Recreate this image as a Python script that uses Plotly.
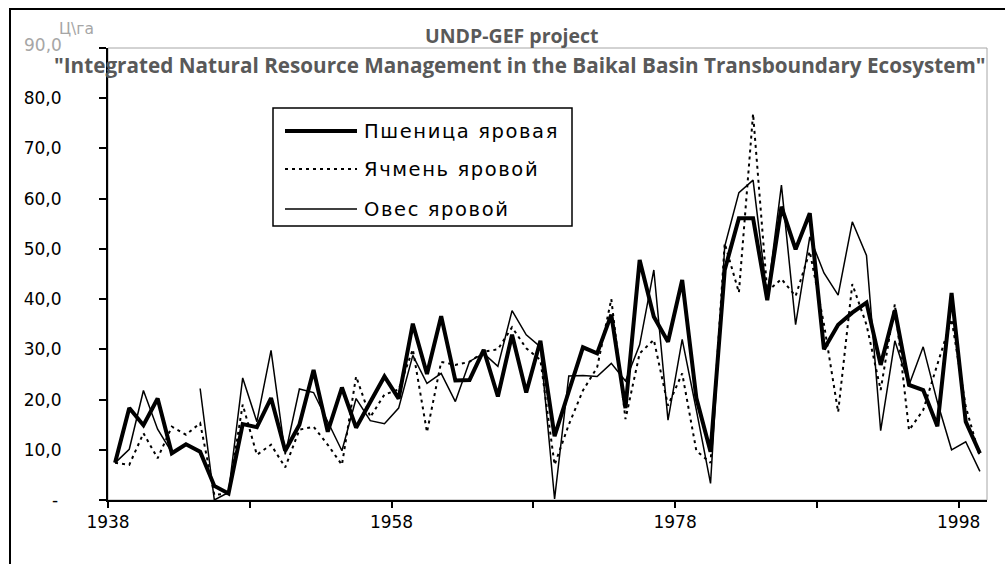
import plotly.graph_objects as go

# Yields of spring grain crops, centner per hectare, 1938-1999
years = list(range(1938, 2000))

wheat = [
    7.4, 18.3, 14.9, 20.2, 9.3, 11.1, 9.6, 2.8, 1.3, 15.1,
    14.5, 20.3, 9.8, 15.0, 25.9, 13.6, 22.4, 14.4, 19.5, 24.6,
    20.2, 35.1, 25.1, 36.6, 23.8, 23.9, 29.9, 20.6, 32.9, 21.4,
    31.7, 12.7, 21.6, 30.4, 29.2, 36.9, 18.3, 47.8, 36.5, 31.5,
    43.8, 20.3, 9.6, 45.8, 56.1, 56.1, 39.8, 58.4, 49.9, 57.1,
    30.0, 34.9, 37.3, 39.3, 26.9, 37.8, 22.9, 21.9, 14.7, 41.2,
    15.6, 9.3,
]

barley = [
    7.4, 7.0, 13.3, 8.3, 14.6, 13.0, 15.3, 1.0, 1.3, 19.0,
    9.0, 11.0, 6.5, 14.0, 14.6, 11.0, 7.0, 24.6, 16.5, 21.0,
    22.0, 30.0, 13.5, 27.5, 26.9, 27.5, 29.5, 30.0, 34.4, 30.2,
    27.9, 7.0, 15.0, 21.8, 26.4, 40.0, 16.1, 29.2, 31.9, 18.8,
    25.2, 9.8, 7.4, 51.1, 41.3, 76.9, 41.5, 44.0, 40.6, 49.5,
    35.0, 17.5, 43.0, 34.9, 21.9, 39.0, 13.9, 17.9, 27.0, 36.0,
    18.6, 8.6,
]

oats = [
    7.4, 10.1, 21.8, 14.1, 9.5, None, 22.2, 0.0, 1.5, 24.3,
    15.6, 29.8, 9.1, 22.1, 21.4, 15.5, 9.8, 20.2, 15.8, 15.2,
    18.3, 28.8, 23.2, 25.2, 19.6, 27.6, 29.2, 26.6, 37.7, 32.9,
    30.5, 0.2, 24.7, 24.8, 24.6, 27.2, 23.7, 30.9, 45.8, 15.9,
    32.0, 17.9, 3.3, 50.5, 61.2, 63.7, 40.5, 62.7, 34.9, 52.4,
    45.2, 40.8, 55.4, 48.7, 13.8, 31.7, 22.9, 30.5, 19.5, 10.0,
    11.6, 5.7,
]

series_names = ["Пшеница яровая", "Ячмень яровой", "Овес яровой"]
series_values = [wheat, barley, oats]
series_styles = [
    dict(color="black", width=4),
    dict(color="black", width=2, dash="3px,4px"),
    dict(color="black", width=1.5),
]

y_ticks = [0, 10, 20, 30, 40, 50, 60, 70, 80, 90]
y_ticktext = ["-\u2009", "10,0", "20,0", "30,0", "40,0", "50,0", "60,0", "70,0", "80,0", ""]
x_ticks = [1937.5, 1947.5, 1957.5, 1967.5, 1977.5, 1987.5, 1997.5]
x_ticktext = ["1938", "", "1958", "", "1978", "", "1998"]

title_lines = [
    "UNDP-GEF project",
    "\"Integrated Natural Resource Management in the Baikal Basin Transboundary Ecosystem\"",
]

W, H = 1005, 564
ML, MR, MT, MB = 108, 18, 48, 64
PW, PH = W - ML - MR, H - MT - MB


def px(x):
    return (x - ML) / PW


def py(y):
    return (H - MB - y) / PH


SANS = "DejaVu Sans, Liberation Sans, Arial, sans-serif"
AXIS_FONT = dict(family=SANS, size=17, color="black")
TITLE_FAMILY = "Open Sans, sans-serif"

fig = go.Figure()
for name, vals, style in zip(series_names, series_values, series_styles):
    fig.add_trace(go.Scatter(
        x=years, y=vals, name=name, mode="lines", line=style,
        connectgaps=False, showlegend=False,
    ))

shapes = []
# light plot-area frame
shapes.append(dict(type="rect", xref="paper", yref="paper", x0=0, x1=1, y0=0, y1=1,
                   line=dict(color="#a6a6a6", width=1), layer="below"))
# outer chart frame
shapes.append(dict(type="rect", xref="paper", yref="paper",
                   x0=px(10), x1=px(1015), y0=py(575), y1=py(9),
                   line=dict(color="black", width=2)))

# legend box with long line samples
lg_left, lg_right, lg_top, lg_bot = 273, 572, 108, 226
shapes.append(dict(type="rect", xref="paper", yref="paper",
                   x0=px(lg_left), x1=px(lg_right), y0=py(lg_bot), y1=py(lg_top),
                   line=dict(color="black", width=1.5), fillcolor="white"))
legend_rows = [131, 169, 209]
annotations = []
for name, style, yy in zip(series_names, series_styles, legend_rows):
    shapes.append(dict(type="line", xref="paper", yref="paper",
                       x0=px(285), x1=px(357), y0=py(yy), y1=py(yy), line=style))
    annotations.append(dict(xref="paper", yref="paper", x=px(362), y=py(yy),
                            text=f'<span style="letter-spacing:1.6px">{name}</span>',
                            showarrow=False, xanchor="left", yanchor="middle",
                            font=dict(family=SANS, size=19.5, color="black")))

annotations += [
    dict(xref="paper", yref="paper", x=px(512), y=py(36), text=f"<b>{title_lines[0]}</b>",
         showarrow=False, xanchor="center", yanchor="middle",
         font=dict(family=TITLE_FAMILY, size=19.5, color="#595959")),
    dict(xref="paper", yref="paper", x=px(520), y=py(65), text=f"<b>{title_lines[1]}</b>",
         showarrow=False, xanchor="center", yanchor="middle",
         font=dict(family=TITLE_FAMILY, size=20.7, color="#595959")),
    dict(xref="paper", yref="paper", x=px(57), y=py(29), text="Ц\\га",
         showarrow=False, xanchor="left", yanchor="middle",
         font=dict(family=SANS, size=15.5, color="#a6a6a6")),
    dict(xref="paper", yref="paper", x=px(64), y=py(44.5), text="90,0",
         showarrow=False, xanchor="right", yanchor="middle",
         font=dict(family=SANS, size=17, color="#a6a6a6")),
]

fig.update_layout(
    width=W, height=H,
    margin=dict(l=ML, r=MR, t=MT, b=MB, pad=0),
    paper_bgcolor="white", plot_bgcolor="white",
    showlegend=False,
    shapes=shapes, annotations=annotations,
    xaxis=dict(range=[1937.5, 1999.5], tickmode="array", tickvals=x_ticks, ticktext=x_ticktext,
               ticks="outside", ticklen=6, tickwidth=1.5, tickcolor="black",
               showline=True, linecolor="black", linewidth=2,
               showgrid=False, zeroline=False, tickfont=AXIS_FONT),
    yaxis=dict(range=[0, 90], tickmode="array", tickvals=y_ticks, ticktext=y_ticktext,
               ticks="outside", ticklen=7, tickwidth=1.5, tickcolor="black",
               showline=True, linecolor="black", linewidth=2,
               showgrid=False, zeroline=False, tickfont=AXIS_FONT,
               ticklabelstandoff=34),
)

fig.write_html("out.html")
